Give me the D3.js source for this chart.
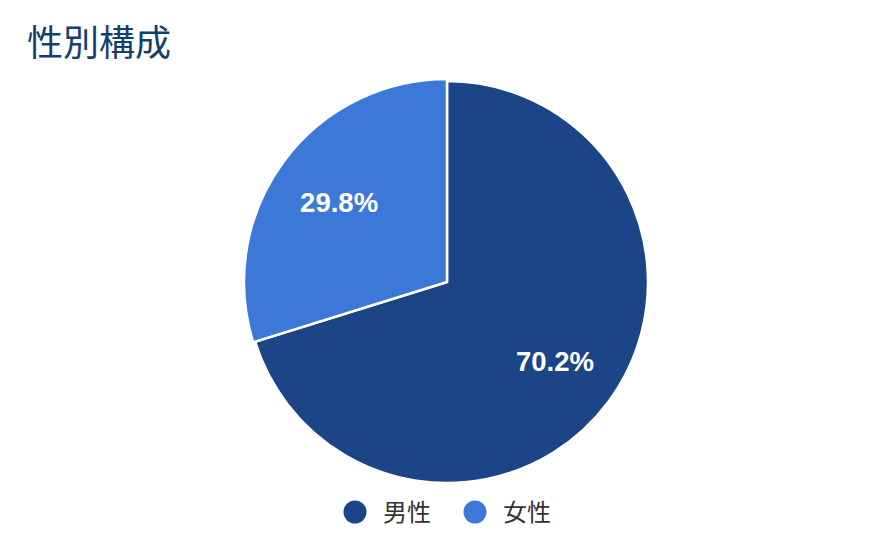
<!DOCTYPE html>
<html>
<head>
<meta charset="utf-8">
<script src="https://cdn.jsdelivr.net/npm/d3@7"></script>
<style>
  body { margin: 0; background: #fff; }
  text { font-family: "Noto Sans CJK JP", "Noto Sans", sans-serif; }
</style>
</head>
<body>
<div id="chart"></div>
<script>
var width = 894,
    height = 552;

var categories = ['男性', '女性'];
var values = [70.2, 29.8];
var colors = ['#1c4587', '#3c78d8'];

var cx = 447, cy = 282, radius = 201;

var svg = d3.select('#chart').append('svg')
    .attr('width', width)
    .attr('height', height);

svg.append('text')
    .attr('x', 27)
    .attr('y', 56)
    .attr('fill', '#12406e')
    .style('font-size', '36px')
    .text('性別構成');

var pie = d3.pie().sort(null).value(function(d){ return d; });
var arcs = pie(values);

// second slice is drawn a little bigger, like a highlighted slice
var arcFor = function(i){
    return d3.arc().innerRadius(0).outerRadius(i === 1 ? radius + 2 : radius);
};

var g = svg.append('g')
    .attr('transform', 'translate(' + [cx, cy] + ')');

g.selectAll('path')
    .data(arcs)
    .enter().append('path')
    .attr('d', function(d, i){ return arcFor(i)(d); })
    .attr('fill', function(d, i){ return colors[i]; })
    .attr('stroke', '#fff')
    .attr('stroke-width', 2.5)
    .attr('stroke-linejoin', 'round');

var labelArc = d3.arc().innerRadius(radius * 2 / 3).outerRadius(radius * 2 / 3);

g.selectAll('text.pct')
    .data(arcs)
    .enter().append('text')
    .attr('class', 'pct')
    .attr('transform', function(d){ return 'translate(' + labelArc.centroid(d) + ')'; })
    .attr('text-anchor', 'middle')
    .attr('dy', '0.36em')
    .attr('fill', '#fff')
    .style('font-family', '"Liberation Sans", Arial, sans-serif')
    .style('font-weight', 'bold')
    .style('font-size', '27.5px')
    .text(function(d){ return d.value.toFixed(1) + '%'; });

// legend
var legendX = d3.scalePoint()
    .domain(categories)
    .range([355, 475]);

var legend = svg.selectAll('g.legend')
    .data(categories)
    .enter().append('g')
    .attr('class', 'legend')
    .attr('transform', function(d){ return 'translate(' + [legendX(d), 512] + ')'; });

legend.append('circle')
    .attr('r', 11.5)
    .attr('fill', function(d, i){ return colors[i]; });

legend.append('text')
    .attr('x', 28)
    .attr('dy', '0.36em')
    .attr('fill', '#333')
    .style('font-size', '24px')
    .text(function(d){ return d; });
</script>
</body>
</html>
